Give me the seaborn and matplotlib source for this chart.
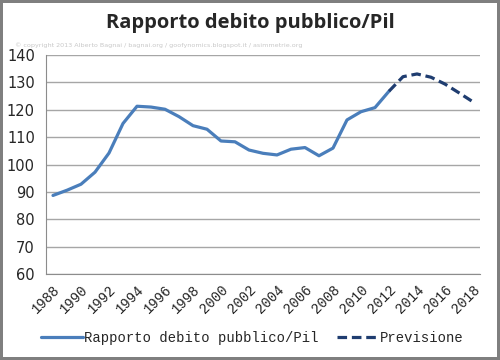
import numpy as np
import pandas as pd
import seaborn as sns
from matplotlib import pyplot as plt

# debt/GDP ratio, actual values
anni = list(range(1988, 2013))
debito = [88.7, 90.6, 92.8, 97.2, 104.2, 115.0, 121.3, 121.0, 120.2, 117.5,
          114.2, 112.9, 108.6, 108.3, 105.3, 104.1, 103.5, 105.6, 106.2, 103.2,
          106.0, 116.3, 119.3, 120.8, 126.8]
# forecast
anni_prev = list(range(2012, 2019))
previsione = [126.8, 132.1, 133.1, 131.9, 129.4, 126.2, 122.9]

tick_anni = list(range(1988, 2019, 2))

df = pd.DataFrame({'anno': anni, 'valore': debito})
df_prev = pd.DataFrame({'anno': anni_prev, 'valore': previsione})

sns.set_style("white")
fig = plt.figure(figsize=(5, 3.6), dpi=100)
fig.patch.set_edgecolor('#7f7f7f')
fig.patch.set_linewidth(3)
ax = fig.add_axes([0.092, 0.239, 0.868, 0.608])

sns.lineplot(data=df, x='anno', y='valore', ax=ax, color='#4a7ebb', lw=2.3,
             label='Rapporto debito pubblico/Pil')
sns.lineplot(data=df_prev, x='anno', y='valore', ax=ax, color='#1f3d70', lw=2.3,
             linestyle=(0, (3, 1.5)), label='Previsione')

ax.set_xlim(1987.5, 2018.5)
ax.set_ylim(60, 140)
ax.set_yticks(range(60, 141, 10))
ax.yaxis.grid(True, color='#a6a6a6', lw=1)
ax.set_axisbelow(True)
for s in ['top', 'right']:
    ax.spines[s].set_visible(False)
ax.spines['left'].set_color('#8c8c8c')
ax.spines['bottom'].set_color('#8c8c8c')

ax.set_xticks(tick_anni)
ax.set_xticklabels([str(a) for a in tick_anni], rotation=45, ha='right',
                   rotation_mode='anchor', family='Liberation Mono', fontsize=10)
ax.set_xticks(np.arange(1987.5, 2019, 1), minor=True)
ax.tick_params(axis='x', which='major', length=0, pad=6)
ax.tick_params(axis='x', which='minor', length=4, color='#8c8c8c', direction='out')
ax.tick_params(axis='y', length=4, color='#8c8c8c', direction='out', pad=4, labelsize=10.5)
for t in ax.get_yticklabels():
    t.set_family('DejaVu Sans')
ax.set_xlabel('')
ax.set_ylabel('')

fig.text(0.5, 0.935, 'Rapporto debito pubblico/Pil', ha='center', va='center',
         fontsize=14.5, fontweight='bold', family=['Open Sans', 'DejaVu Sans'])
fig.text(0.03, 0.875,
         '\u00a9 copyright 2013 Alberto Bagnai / bagnai.org / goofynomics.blogspot.it / asimmetrie.org',
         fontsize=4.6, color='#c8c8c8', va='center')

ax.legend(loc='center', bbox_to_anchor=(0.475, -0.293), ncol=2, frameon=False,
          prop={'family': 'Liberation Mono', 'size': 10}, handlelength=3.0,
          columnspacing=1.3, handletextpad=0.1)

plt.savefig('out.png', dpi=100)
